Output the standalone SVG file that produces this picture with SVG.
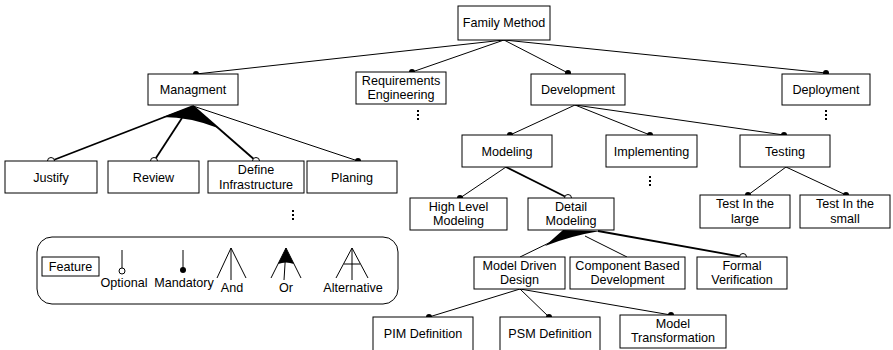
<svg xmlns="http://www.w3.org/2000/svg" width="893" height="350" viewBox="0 0 893 350">
<style>
.box{fill:#fff;stroke:#000;stroke-width:1}
text{font-family:"Liberation Sans",Arial,sans-serif;font-size:12.6px;fill:#000;text-anchor:middle}
.ln{stroke:#000;stroke-width:1;fill:none}
.th{stroke:#000;stroke-width:1.8;fill:none}
.dot{fill:#000}
.opt{fill:#fff;stroke:#000;stroke-width:1}
.vd{fill:#000}
</style>
<rect width="893" height="350" fill="#fff"/>
<g id="connectors">
<line class="ln" x1="504" y1="40" x2="196" y2="74"/>
<line class="ln" x1="504" y1="40" x2="412" y2="72"/>
<line class="ln" x1="504" y1="40" x2="568" y2="73"/>
<line class="ln" x1="504" y1="40" x2="826" y2="73"/>
<path class="dot" d="M193 106 L163 117 Q190 117 218 128 Z"/>
<line class="th" x1="193" y1="106" x2="51" y2="161"/>
<line class="th" x1="182" y1="118" x2="154" y2="161"/>
<line class="th" x1="193" y1="106" x2="256" y2="161"/>
<line class="ln" x1="193" y1="106" x2="358" y2="161"/>
<line class="ln" x1="575" y1="105" x2="510" y2="135"/>
<line class="ln" x1="575" y1="105" x2="650" y2="135"/>
<line class="ln" x1="575" y1="105" x2="784" y2="135"/>
<line class="ln" x1="506" y1="167" x2="460" y2="198"/>
<line class="th" x1="506" y1="167" x2="568" y2="198"/>
<line class="ln" x1="786" y1="167" x2="748" y2="195"/>
<line class="ln" x1="786" y1="167" x2="846" y2="195"/>
<path class="dot" d="M563 230 L600 231 Q570 236 545 246 Z"/>
<line class="ln" x1="555" y1="240" x2="520" y2="257"/>
<line class="ln" x1="585" y1="236" x2="627" y2="257"/>
<line class="th" x1="598" y1="231" x2="743" y2="257"/>
<line class="ln" x1="520" y1="289" x2="429" y2="317"/>
<line class="ln" x1="520" y1="289" x2="549" y2="317"/>
<line class="ln" x1="520" y1="289" x2="671" y2="315"/>
<circle class="dot" cx="196" cy="74" r="3"/>
<circle class="dot" cx="412" cy="72" r="3"/>
<circle class="dot" cx="568" cy="73" r="3"/>
<circle class="dot" cx="826" cy="73" r="3"/>
<circle class="opt" cx="51" cy="161" r="3.5"/>
<circle class="opt" cx="154" cy="161" r="3.5"/>
<circle class="opt" cx="256" cy="161" r="3.5"/>
<circle class="dot" cx="358" cy="161" r="3"/>
<circle class="dot" cx="510" cy="135" r="3"/>
<circle class="dot" cx="650" cy="135" r="3"/>
<circle class="dot" cx="784" cy="135" r="3"/>
<circle class="dot" cx="460" cy="198" r="3"/>
<circle class="opt" cx="568" cy="198" r="3.5"/>
<circle class="dot" cx="748" cy="195" r="3"/>
<circle class="dot" cx="846" cy="195" r="3"/>
<circle class="opt" cx="743" cy="257" r="3.5"/>
<circle class="dot" cx="429" cy="317" r="3"/>
<circle class="dot" cx="549" cy="317" r="3"/>
<circle class="dot" cx="671" cy="315" r="3"/>
</g>
<g id="n-family"><rect class="box" x="458" y="6" width="92" height="34"/><text x="504" y="27">Family Method</text></g>
<g id="n-managment"><rect class="box" x="148" y="74" width="90" height="31"/><text x="193" y="94">Managment</text></g>
<g id="n-req"><rect class="box" x="356" y="72" width="90" height="32"/><text x="401" y="85">Requirements</text><text x="401" y="99">Engineering</text></g>
<g id="n-dev"><rect class="box" x="531" y="74" width="94" height="31"/><text x="578" y="94">Development</text></g>
<g id="n-deploy"><rect class="box" x="782" y="74" width="88" height="31"/><text x="826" y="94">Deployment</text></g>
<g id="n-justify"><rect class="box" x="5" y="161" width="92" height="32"/><text x="51" y="182">Justify</text></g>
<g id="n-review"><rect class="box" x="108" y="161" width="91" height="32"/><text x="153.5" y="182">Review</text></g>
<g id="n-define"><rect class="box" x="208" y="161" width="96" height="32"/><text x="256" y="174">Define</text><text x="256" y="189">Infrastructure</text></g>
<g id="n-planing"><rect class="box" x="307" y="161" width="90" height="32"/><text x="352" y="182">Planing</text></g>
<g id="n-modeling"><rect class="box" x="462" y="135" width="90" height="32"/><text x="507" y="156">Modeling</text></g>
<g id="n-impl"><rect class="box" x="606" y="135" width="91" height="32"/><text x="651.5" y="156">Implementing</text></g>
<g id="n-testing"><rect class="box" x="740" y="135" width="90" height="32"/><text x="785" y="156">Testing</text></g>
<g id="n-hlm"><rect class="box" x="410" y="198" width="97" height="32"/><text x="458.5" y="211">High Level</text><text x="458.5" y="225">Modeling</text></g>
<g id="n-detail"><rect class="box" x="528" y="198" width="86" height="32"/><text x="571" y="211">Detail</text><text x="571" y="225">Modeling</text></g>
<g id="n-large"><rect class="box" x="700" y="195" width="90" height="33"/><text x="745" y="208">Test In the</text><text x="745" y="223">large</text></g>
<g id="n-small"><rect class="box" x="800" y="195" width="90" height="33"/><text x="845" y="208">Test In the</text><text x="845" y="223">small</text></g>
<g id="n-mdd"><rect class="box" x="474" y="257" width="91" height="32"/><text x="519.5" y="270">Model Driven</text><text x="519.5" y="284">Design</text></g>
<g id="n-cbd"><rect class="box" x="570" y="257" width="115" height="32"/><text x="627.5" y="270">Component Based</text><text x="627.5" y="284">Development</text></g>
<g id="n-fv"><rect class="box" x="697" y="257" width="90" height="32"/><text x="742" y="270">Formal</text><text x="742" y="284">Verification</text></g>
<g id="n-pim"><rect class="box" x="373" y="317" width="100" height="34"/><text x="423" y="338">PIM Definition</text></g>
<g id="n-psm"><rect class="box" x="500" y="317" width="100" height="34"/><text x="550" y="338">PSM Definition</text></g>
<g id="n-mt"><rect class="box" x="620" y="315" width="106" height="33"/><text x="673" y="328">Model</text><text x="673" y="342">Transformation</text></g>
<g id="ellipsis">
<rect class="vd" x="417" y="110" width="2" height="2"/><rect class="vd" x="417" y="114" width="2" height="2"/><rect class="vd" x="417" y="118" width="2" height="2"/>
<rect class="vd" x="825" y="110" width="2" height="2"/><rect class="vd" x="825" y="114" width="2" height="2"/><rect class="vd" x="825" y="118" width="2" height="2"/>
<rect class="vd" x="649" y="176" width="2" height="2"/><rect class="vd" x="649" y="180" width="2" height="2"/><rect class="vd" x="649" y="184" width="2" height="2"/>
<rect class="vd" x="292" y="210" width="2" height="2"/><rect class="vd" x="292" y="214" width="2" height="2"/><rect class="vd" x="292" y="218" width="2" height="2"/>
</g>
<g id="legend">
<rect x="37" y="237" width="361" height="67" rx="15" fill="#fff" stroke="#000" stroke-width="1"/>
<rect class="box" x="42" y="257" width="57" height="19"/><text x="70.5" y="271">Feature</text>
<line class="ln" x1="122" y1="250" x2="122" y2="268"/><circle class="opt" cx="122" cy="271" r="3"/>
<text x="124" y="287">Optional</text>
<line class="ln" x1="183" y1="250" x2="183" y2="268"/><circle class="dot" cx="183" cy="270" r="3"/>
<text x="184" y="287">Mandatory</text>
<path class="ln" d="M217 278 L231 248 L246 278 M231 248 L231 280"/>
<text x="232" y="292">And</text>
<path class="ln" d="M271 278 L286 248 L301 278 M286 248 L284 280"/>
<path class="dot" d="M286 248 L278 264 Q286 261 294 264 Z"/>
<text x="286" y="292">Or</text>
<path class="ln" d="M336 278 L352 248 L368 278 M352 248 L352 280 M344 264 L360 264"/>
<text x="353" y="292">Alternative</text>
</g>
</svg>
